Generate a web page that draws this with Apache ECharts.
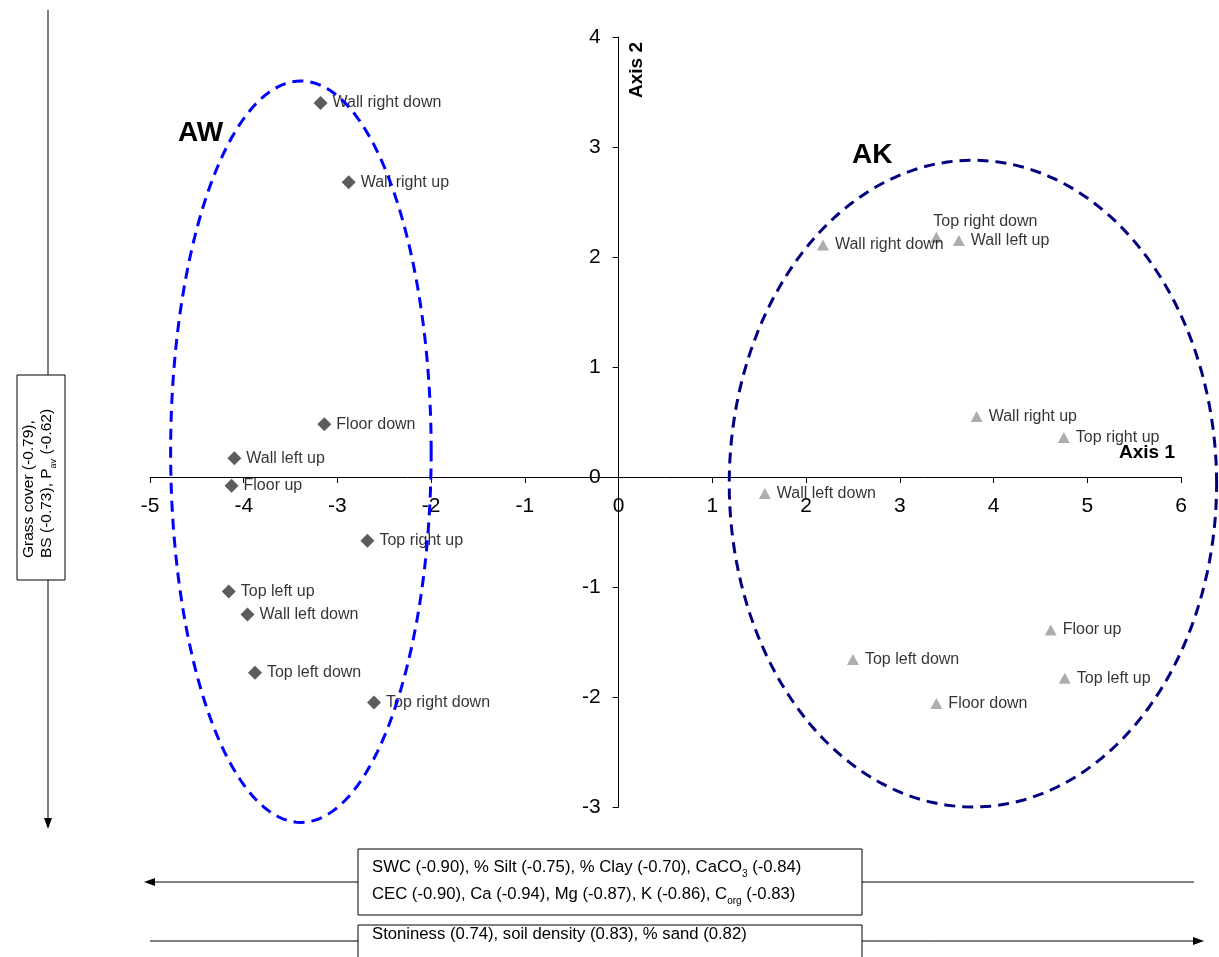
<!DOCTYPE html>
<html>
<head>
<meta charset="utf-8">
<script src="https://cdn.jsdelivr.net/npm/echarts@6/dist/echarts.min.js"></script>
<style>
html,body{margin:0;padding:0;background:#fff;}
#chart{width:1219px;height:957px;}
</style>
</head>
<body>
<div id="chart"></div>
<script>
// ---- data ----
const xTicks = [-5, 6];      // axis 1 range
const yTicks = [-3, 4];      // axis 2 range

const awNames = ['Wall right down','Wall right up','Floor down','Wall left up','Floor up','Top right up','Top left up','Wall left down','Top left down','Top right down'];
const awX = [-3.18, -2.88, -3.14, -4.10, -4.13, -2.68, -4.16, -3.96, -3.88, -2.61];
const awY = [3.40, 2.68, 0.48, 0.17, -0.08, -0.58, -1.04, -1.25, -1.78, -2.05];

const akNames = ['Wall right down','Top right down','Wall left up','Wall right up','Top right up','Wall left down','Floor up','Top left down','Top left up','Floor down'];
const akX = [2.18, 3.39, 3.63, 3.82, 4.75, 1.56, 4.61, 2.50, 4.76, 3.39];
const akY = [2.11, 2.18, 2.15, 0.55, 0.36, -0.15, -1.39, -1.66, -1.83, -2.06];

// group ellipses: centre x, centre y, radius x, radius y (data units)
const awEllipse = [-3.39, 0.23, 1.39, 3.37];
const akEllipse = [3.78, -0.06, 2.60, 2.94];

const groupNames = ['AW', 'AK'];
const axisNames = ['Axis 1', 'Axis 2'];

// ---- chart ----
const FONT = 'Liberation Sans, Arial, sans-serif';
const W = 1219, H = 957;
const G = {left: 150, right: 38, top: 37, bottom: 150};
const gw = W - G.left - G.right, gh = H - G.top - G.bottom;
// shift the axes so they cross at the origin (labels follow the lines)
const xAxisOffset = -gh * (0 - yTicks[0]) / (yTicks[1] - yTicks[0]);
const yAxisOffset = -gw * (0 - xTicks[0]) / (xTicks[1] - xTicks[0]);

const chart = echarts.init(document.getElementById('chart'), null, {renderer: 'canvas'});

function pts(xs, ys, names, special) {
  return xs.map((x, i) => {
    const d = {value: [x, ys[i]], name: names[i]};
    if (special && special[i]) d.label = special[i];
    return d;
  });
}

function ellipseSeries(params, color) {
  return {
    type: 'custom',
    coordinateSystem: 'cartesian2d',
    clip: false,
    silent: true,
    z: 5,
    data: [params],
    renderItem: function (p, api) {
      const cx = api.value(0), cy = api.value(1), rx = api.value(2), ry = api.value(3);
      const points = [];
      const N = 180;
      for (let k = 0; k < N; k++) {
        const t = 2 * Math.PI * k / N;
        points.push(api.coord([cx + rx * Math.cos(t), cy + ry * Math.sin(t)]));
      }
      return {
        type: 'polygon',
        shape: {points: points},
        style: {fill: 'none', stroke: color, lineWidth: 3, lineDash: [11, 7]}
      };
    }
  };
}

const akSpecial = {1: {position: 'top', align: 'left', offset: [-3, 2], distance: 4}};
const subRich = {
  n: {fontSize: 16.7, fontFamily: FONT, fill: '#000', lineHeight: 20},
  s: {fontSize: 10, fontFamily: FONT, fill: '#000', lineHeight: 20, verticalAlign: 'bottom', padding: [0, 0, -2, 0]}
};

const option = {
  animation: false,
  backgroundColor: '#ffffff',
  grid: {left: G.left, right: G.right, top: G.top, bottom: G.bottom, outerBoundsMode: 'none'},
  xAxis: {
    type: 'value', min: xTicks[0], max: xTicks[1], interval: 1,
    position: 'bottom', offset: xAxisOffset,
    axisLine: {onZero: false, lineStyle: {color: '#000', width: 1}},
    axisTick: {show: true, length: 6, lineStyle: {color: '#000'}},
    axisLabel: {fontSize: 21, color: '#000', fontFamily: FONT, margin: 19},
    splitLine: {show: false}
  },
  yAxis: {
    type: 'value', min: yTicks[0], max: yTicks[1], interval: 1,
    position: 'left', offset: yAxisOffset,
    axisLine: {onZero: false, lineStyle: {color: '#000', width: 1}},
    axisTick: {show: true, length: 6, lineStyle: {color: '#000'}},
    axisLabel: {fontSize: 21, color: '#000', fontFamily: FONT, margin: 18},
    splitLine: {show: false}
  },
  series: [
    {
      type: 'scatter', name: 'AW', symbol: 'diamond', symbolSize: 14, z: 2,
      itemStyle: {color: '#333333'},
      label: {show: true, position: 'right', distance: 5, formatter: '{b}', fontSize: 16, color: '#000', fontFamily: FONT},
      data: pts(awX, awY, awNames)
    },
    {
      type: 'scatter', name: 'AK', symbol: 'triangle', symbolSize: [12, 11], z: 2,
      itemStyle: {color: '#999999'},
      label: {show: true, position: 'right', distance: 6, formatter: '{b}', fontSize: 16, color: '#000', fontFamily: FONT},
      data: pts(akX, akY, akNames, akSpecial)
    },
    ellipseSeries(awEllipse, '#0000ff'),
    ellipseSeries(akEllipse, '#000080')
  ],
  graphic: [
    {type: 'text', left: 178, top: 119, z: 10, style: {text: groupNames[0], font: 'bold 28px ' + FONT, fill: '#000'}},
    {type: 'text', left: 852, top: 141, z: 10, style: {text: groupNames[1], font: 'bold 28px ' + FONT, fill: '#000'}},
    {type: 'text', x: 637, y: 70, rotation: Math.PI / 2, z: 10,
      style: {text: axisNames[1], font: 'bold 19px ' + FONT, fill: '#000', align: 'center', verticalAlign: 'middle'}},
    {type: 'text', x: 1175, y: 453, z: 10,
      style: {text: axisNames[0], font: 'bold 19px ' + FONT, fill: '#000', align: 'right', verticalAlign: 'middle'}},

    // left vertical arrow
    {type: 'line', z: 1, shape: {x1: 48, y1: 10, x2: 48, y2: 820}, style: {stroke: '#000', lineWidth: 1}},
    {type: 'polygon', z: 1, shape: {points: [[44, 818], [52, 818], [48, 829]]}, style: {fill: '#000'}},
    {type: 'rect', z: 2, shape: {x: 17, y: 375, width: 48, height: 205}, style: {fill: '#fff', stroke: '#000', lineWidth: 1}},
    {type: 'text', x: 20, y: 558, rotation: Math.PI / 2, z: 3,
      style: {
        text: '{n|Grass cover (-0.79),}\n{n|BS (-0.73), P}{s|av}{n| (-0.62)}',
        align: 'left', verticalAlign: 'top',
        rich: {
          n: {fontSize: 15.5, fontFamily: FONT, fill: '#000', lineHeight: 18},
          s: {fontSize: 9, fontFamily: FONT, fill: '#000', lineHeight: 18, verticalAlign: 'bottom', padding: [0, 0, -2, 0]}
        }
      }},

    // bottom arrows
    {type: 'line', z: 1, shape: {x1: 152, y1: 882, x2: 1194, y2: 882}, style: {stroke: '#000', lineWidth: 1}},
    {type: 'polygon', z: 1, shape: {points: [[155, 878], [155, 886], [144, 882]]}, style: {fill: '#000'}},
    {type: 'line', z: 1, shape: {x1: 150, y1: 941, x2: 1195, y2: 941}, style: {stroke: '#000', lineWidth: 1}},
    {type: 'polygon', z: 1, shape: {points: [[1193, 937], [1193, 945], [1204, 941]]}, style: {fill: '#000'}},
    {type: 'rect', z: 2, shape: {x: 358, y: 849, width: 504, height: 66}, style: {fill: '#fff', stroke: '#000', lineWidth: 1}},
    {type: 'rect', z: 2, shape: {x: 358, y: 925, width: 504, height: 50}, style: {fill: '#fff', stroke: '#000', lineWidth: 1}},
    {type: 'text', x: 372, y: 867, z: 3,
      style: {
        text: '{n|SWC (-0.90), % Silt (-0.75), % Clay (-0.70), CaCO}{s|3}{n| (-0.84)}',
        align: 'left', verticalAlign: 'middle', rich: subRich
      }},
    {type: 'text', x: 372, y: 894, z: 3,
      style: {
        text: '{n|CEC (-0.90), Ca (-0.94), Mg (-0.87), K (-0.86), C}{s|org}{n| (-0.83)}',
        align: 'left', verticalAlign: 'middle', rich: subRich
      }},
    {type: 'text', x: 372, y: 934, z: 3,
      style: {text: 'Stoniness (0.74), soil density (0.83), % sand (0.82)', font: '16.7px ' + FONT, fill: '#000', align: 'left', verticalAlign: 'middle'}}
  ]
};
chart.setOption(option);
</script>
</body>
</html>
